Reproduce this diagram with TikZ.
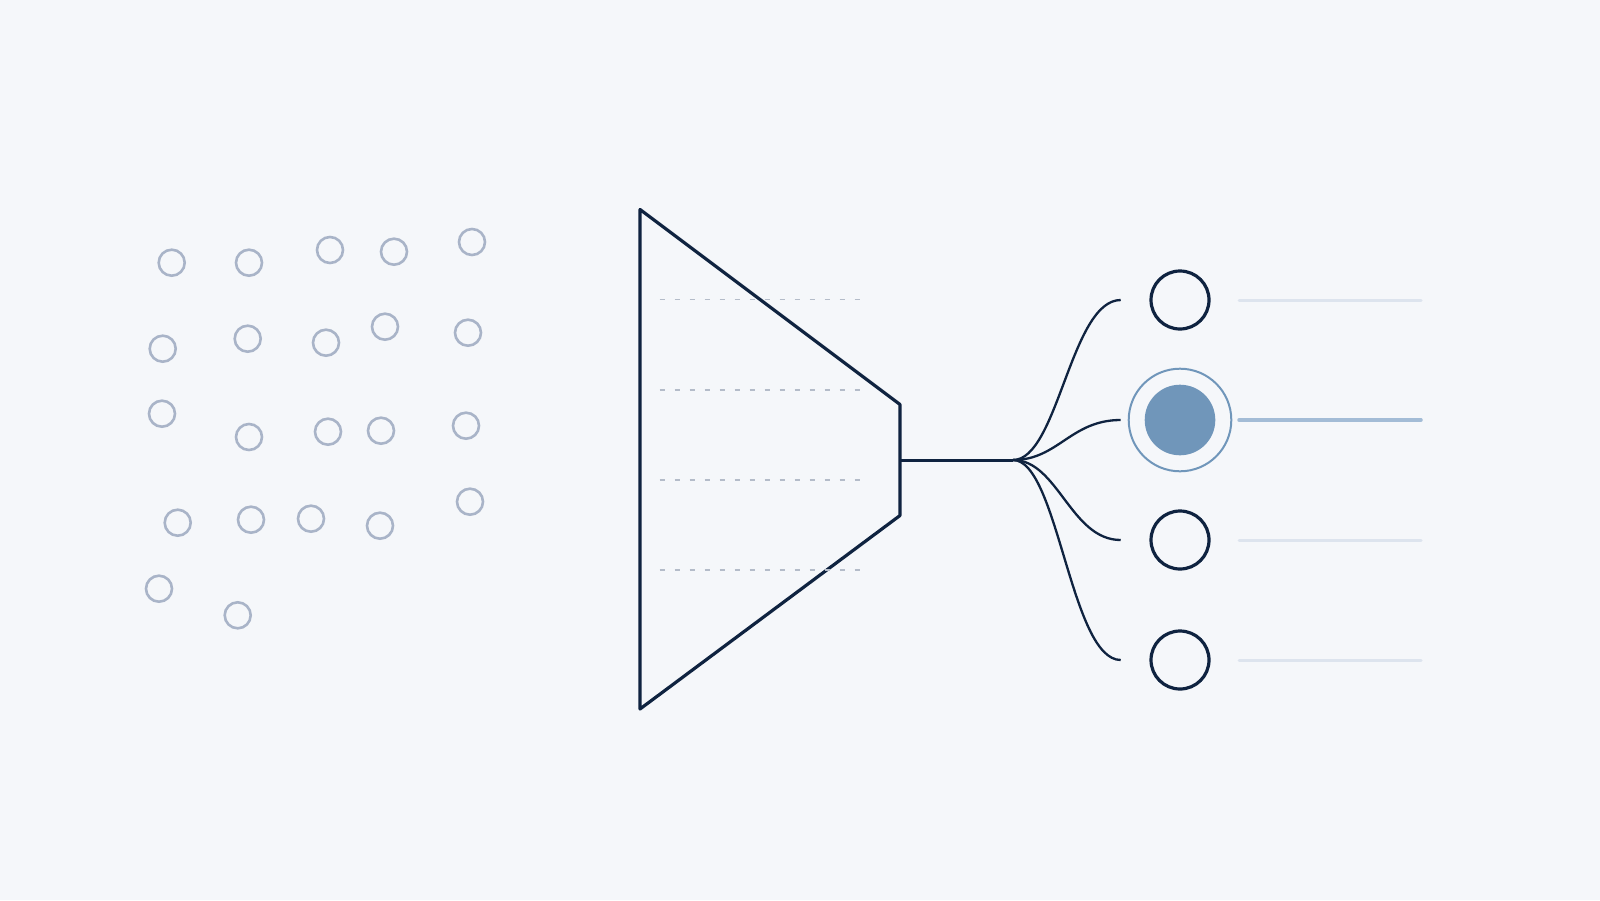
\documentclass[tikz,border=0pt]{standalone}
\usetikzlibrary{calc}
\definecolor{bgc}{HTML}{F5F7FA}
\definecolor{navy}{HTML}{0F2340}
\definecolor{dotc}{HTML}{A9B4C8}
\definecolor{dashc}{HTML}{B4BCC9}
\definecolor{selc}{HTML}{7096BA}
\definecolor{selline}{HTML}{A3BCD6}
\definecolor{faint}{HTML}{DDE4EE}
\tikzset{
  dot/.style={circle,draw=dotc,line width=1.3pt,minimum size=13pt,inner sep=0pt},
  outc/.style={circle,draw=navy,line width=1.6pt,minimum size=29pt,inner sep=0pt},
  ring/.style={circle,draw=selc,line width=1pt,minimum size=51.3pt,inner sep=0pt},
  disk/.style={circle,fill=selc,minimum size=35.3pt,inner sep=0pt},
  funnel/.style={draw=navy,line width=1.6pt,line join=round},
  guide/.style={draw=dashc,line width=0.9pt,dash pattern=on 2.5pt off 5pt},
  branch/.style={draw=navy,line width=1.15pt},
  bar/.style={draw=faint,line width=1.5pt,line cap=round},
  selbar/.style={draw=selline,line width=1.75pt,line cap=round}
}
\begin{document}
\begin{tikzpicture}[x=0.5pt,y=-0.5pt]
\fill[bgc] (0,0) rectangle (1600,900);
\useasboundingbox (0,0) rectangle (1600,900);
% scattered input dots
\foreach \n/\x/\y in {a1/171.7/262.7,a2/249/262.7,a3/330/250,a4/394/251.7,a5/472/242,
  b1/162.7/348.7,b2/247.7/338.7,b3/326/342.7,b4/385/326.7,b5/468/332.7,
  c1/162/413.7,c2/249/437,c3/328/431.7,c4/381/430.7,c5/466/425.7,
  d1/177.7/522.7,d2/251/519.7,d3/311/518.7,d4/380/525.7,d5/470/501.7,
  e1/159/588.7,e2/237.7/615.3}
  \node[dot] (\n) at (\x,\y) {};
% funnel
\coordinate (tl) at (640,209.5);
\coordinate (tr) at (900,404.5);
\coordinate (br) at (900,515.5);
\coordinate (bl) at (640,709);
\coordinate (mid) at (900,460);
\draw[funnel] (tl) -- (tr) -- (br) -- (bl) -- cycle;
% guide lines
\foreach \i/\y in {1/299.5,2/389.8,3/479.7,4/569.6}{
  \coordinate (gs\i) at (659.6,\y);
  \coordinate (ge\i) at (862,\y);
  \draw[guide] (gs\i) -- (ge\i);
}
% stem and fork
\coordinate (fork) at (1013,460);
\draw[branch,line width=1.5pt] (mid) -- (fork);
% outputs
\node[outc] (o1) at (1180,300) {};
\node[ring] (o2) at (1180,420) {};
\node[disk] (o2d) at (1180,420) {};
\node[outc] (o3) at (1180,540) {};
\node[outc] (o4) at (1180,660) {};
\foreach \i/\y in {1/300,2/420,3/540,4/660}{
  \coordinate (t\i) at (1120.7,\y);
  \draw[branch] (fork) .. controls ($(fork)+(45,0)$) and ($(t\i)+(-50,0)$) .. (t\i);
  \coordinate (bs\i) at (1239,\y);
  \coordinate (be\i) at (1421,\y);
}
\draw[bar] (bs1) -- (be1);
\draw[selbar] (bs2) -- (be2);
\draw[bar] (bs3) -- (be3);
\draw[bar] (bs4) -- (be4);
\end{tikzpicture}
\end{document}
